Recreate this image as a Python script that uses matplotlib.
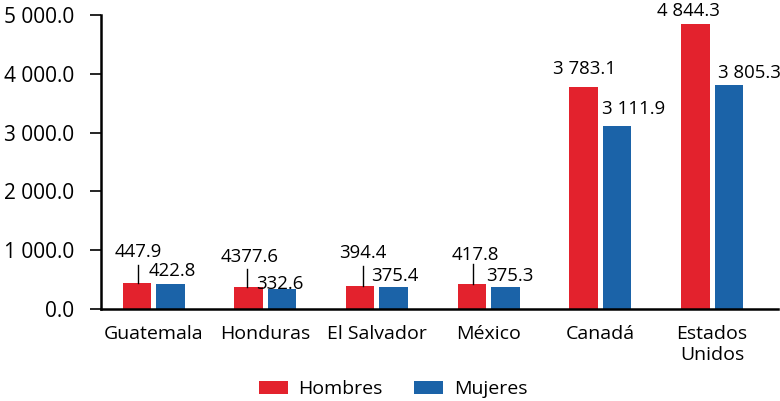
import matplotlib
matplotlib.use("Agg")
import matplotlib.pyplot as plt
from matplotlib.transforms import offset_copy, IdentityTransform
from matplotlib.lines import Line2D
import numpy as np

plt.rcParams['font.family'] = ['Open Sans', 'DejaVu Sans']

# datos
paises = ["Guatemala", "Honduras", "El Salvador", "México", "Canadá", "Estados\nUnidos"]
hombres = [447.9, 377.6, 394.4, 417.8, 3783.1, 4844.3]
mujeres = [422.8, 332.6, 375.4, 375.3, 3111.9, 3805.3]
etiq_hombres = ["447.9", "4377.6", "394.4", "417.8", "3 783.1", "4 844.3"]
etiq_mujeres = ["422.8", "332.6", "375.4", "375.3", "3 111.9", "3 805.3"]
yticks = [0, 1000, 2000, 3000, 4000, 5000]
ytick_labels = ["0.0", "1 000.0", "2 000.0", "3 000.0", "4 000.0", "5 000.0"]

ROJO = "#E3222D"
AZUL = "#1B63A8"

fig = plt.figure(figsize=(7.8, 4.01), dpi=100)
ax = fig.add_axes([101/780, 92/401, 677/780, 294/401])

x = np.arange(len(paises))
w = 0.255
ax.bar(x - 0.15, hombres, w, color=ROJO, label="Hombres")
ax.bar(x + 0.15, mujeres, w, color=AZUL, label="Mujeres")

ax.set_xlim(-0.47, 5.59)
ax.set_ylim(0, 5000)

fs = 13.4
# etiquetas hombres (offset en pixeles)
off_h = [(2, 31), (1, 30), (3, 33), (3, 29), (1, 18), (-7, 13)]
# lineas guia para barras bajas (dx, largo en pixeles)
guia = [(1, 18), (-1, 18), (3, 20), (1, 20), None, None]
for i, t in enumerate(etiq_hombres):
    dx, dy = off_h[i]
    ax.annotate(t, (x[i] - 0.15, hombres[i]), xytext=(dx, dy), textcoords='offset pixels',
                ha='center', va='center', fontsize=fs)
    if guia[i] is not None:
        gx, gl = guia[i]
        tr0 = offset_copy(ax.transData, fig=fig, x=gx, y=0, units='dots')
        tr1 = offset_copy(ax.transData, fig=fig, x=gx, y=gl, units='dots')
        xb = x[i] - 0.15
        p0 = tr0.transform((xb, hombres[i]))
        p1 = tr1.transform((xb, hombres[i]))
        fig.add_artist(Line2D([p0[0], p1[0]], [p0[1], p1[1]], color='black', lw=1,
                              transform=IdentityTransform()))

off_m = [(2, 13), (-2, 5), (1, 11), (4, 11), (16, 17), (21, 12)]
for i, t in enumerate(etiq_mujeres):
    dx, dy = off_m[i]
    ax.annotate(t, (x[i] + 0.15, mujeres[i]), xytext=(dx, dy), textcoords='offset pixels',
                ha='center', va='center', fontsize=fs)

ax.set_yticks(yticks)
ax.set_yticklabels(ytick_labels, fontsize=15)
ax.set_xticks(x)
ax.set_xticklabels(paises, fontsize=14, linespacing=1.2)
ax.tick_params(axis='x', length=0, pad=11.5)
ax.tick_params(axis='y', length=8, width=1.2, pad=11)

for s in ['top', 'right']:
    ax.spines[s].set_visible(False)
ax.spines['left'].set_linewidth(1.8)
ax.spines['bottom'].set_linewidth(1.8)

fig.legend(loc='center', bbox_to_anchor=(393/780, 1 - 389.5/401), ncol=2, frameon=False,
           fontsize=14, handlelength=1.5, handleheight=0.67, handletextpad=0.55,
           columnspacing=1.6)

fig.savefig("out.png", dpi=100)
